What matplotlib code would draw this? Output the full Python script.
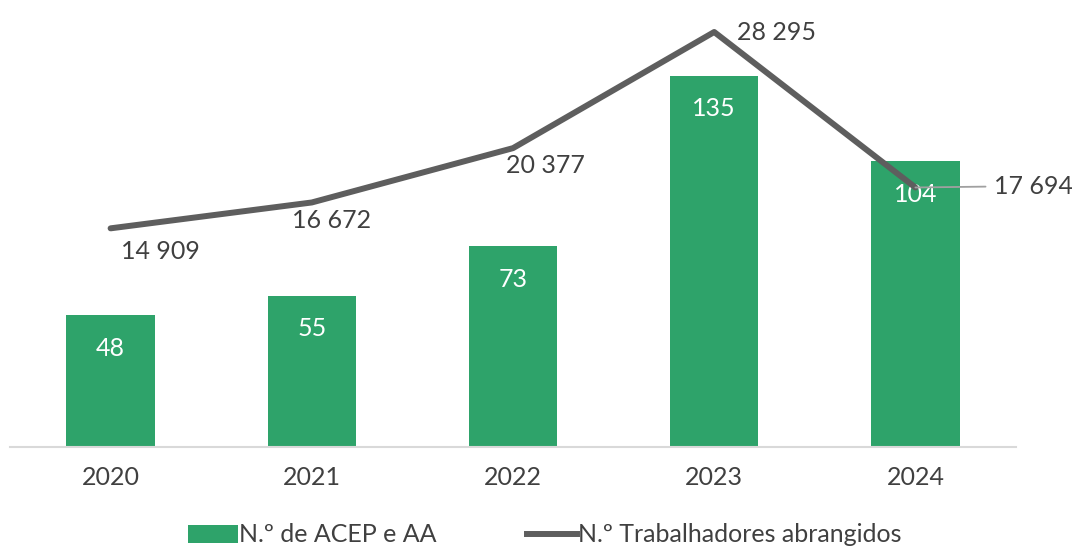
import matplotlib
matplotlib.use("Agg")
import matplotlib.pyplot as plt
from matplotlib.patches import Patch
from matplotlib.lines import Line2D

plt.rcParams['font.family'] = ['Lato', 'DejaVu Sans']

years = ["2020", "2021", "2022", "2023", "2024"]
acep = [48, 55, 73, 135, 104]
workers = [14909, 16672, 20377, 28295, 17694]
worker_labels = ["14 909", "16 672", "20 377", "28 295", "17 694"]

green = "#2EA36A"
gray = "#5E5E5E"
txt = "#404040"
fs = 18

fig = plt.figure(figsize=(10.72, 5.5), dpi=100)
ax = fig.add_axes([10/1072, 1-447/550, 1006/1072, 440/550])
ax2 = ax.twinx()

x = list(range(len(years)))
ax.bar(x, acep, width=0.44, color=green, zorder=2)
ax.set_ylim(0, 160)
ax.set_xlim(-0.5, 4.5)
ax2.set_ylim(0, 30000)

for xi, v in zip(x, acep):
    ax.text(xi, v - 12, str(v), ha='center', va='center', color='white', fontsize=fs)

ax2.plot(x, workers, color=gray, lw=4.3, solid_capstyle='round', zorder=3)

offsets = [(0.25, -1600), (0.1, -1200), (0.16, -1200), (0.31, 0), (0.39, 100)]
for i, (xi, w, lab) in enumerate(zip(x, workers, worker_labels)):
    dx, dy = offsets[i]
    if i == 4:
        ax2.annotate(lab, xy=(xi, w), xytext=(xi + dx, w + dy),
                     ha='left', va='center', color=txt, fontsize=fs,
                     arrowprops=dict(arrowstyle='-', color='#A0A0A0', lw=1.3,
                                     shrinkA=4, shrinkB=0),
                     annotation_clip=False)
    else:
        ax2.text(xi + dx, w + dy, lab, ha='center', va='center', color=txt, fontsize=fs)

for a in (ax, ax2):
    for s in a.spines.values():
        s.set_visible(False)
    a.set_yticks([])
ax.spines['bottom'].set_visible(True)
ax.spines['bottom'].set_color('#D9D9D9')
ax.spines['bottom'].set_linewidth(1.5)
ax.set_xticks(x)
ax.set_xticklabels(years, fontsize=fs, color=txt)
ax.tick_params(axis='x', length=0, pad=14)

handles = [Patch(facecolor=green, edgecolor='none'),
           Line2D([0], [0], color=gray, lw=4.3)]
fig.legend(handles, ["N.º de ACEP e AA", "N.º Trabalhadores abrangidos"],
           loc='center', bbox_to_anchor=(0.508, 1-535/550), ncol=2, frameon=False,
           fontsize=fs, labelcolor=txt, handlelength=2.0, handletextpad=0.05,
           columnspacing=3.6)

fig.savefig("out.png", dpi=100)
